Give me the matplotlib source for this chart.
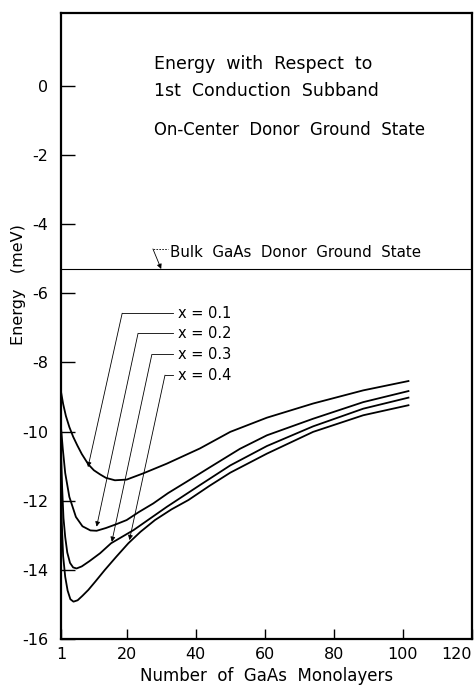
import numpy as np
import matplotlib.pyplot as plt

plt.rcParams['font.family'] = ['DejaVu Sans']
plt.rcParams['axes.unicode_minus'] = False

# energy (meV) vs number of GaAs monolayers
x01 = [1, 1.6, 2.4, 3.4, 4.5, 5.7, 7, 8.9, 10.5, 12.3, 14, 16.6, 20, 24.8, 31.6, 41.2, 50, 60.6, 74, 88.5, 101.6]
y01 = [-8.86, -9.2, -9.55, -9.87, -10.15, -10.4, -10.65, -10.95, -11.12, -11.24, -11.34, -11.41, -11.39, -11.21, -10.93, -10.49, -10.01, -9.6, -9.19, -8.81, -8.54]

x02 = [1, 1.5, 2.2, 3.4, 5.3, 7.2, 9.5, 11.3, 14, 17, 20, 23.5, 27.7, 32, 37.4, 44, 52.8, 60.6, 74, 88.5, 101.6]
y02 = [-9.9, -10.5, -11.2, -11.89, -12.47, -12.74, -12.86, -12.87, -12.79, -12.68, -12.56, -12.33, -12.08, -11.78, -11.45, -11.04, -10.5, -10.11, -9.63, -9.15, -8.83]

x03 = [1, 1.3, 1.7, 2.2, 2.8, 3.6, 4.5, 5.5, 7, 9.2, 12.3, 15.5, 22, 31.6, 41.2, 50, 60.6, 74, 88.5, 101.6]
y03 = [-10.6, -11.6, -12.5, -13.05, -13.5, -13.8, -13.93, -13.96, -13.9, -13.75, -13.52, -13.23, -12.85, -12.18, -11.55, -10.98, -10.42, -9.85, -9.34, -9.02]

x04 = [1, 1.2, 1.6, 2.2, 2.9, 3.7, 4.6, 5.8, 7.2, 8.9, 11, 13.7, 17, 20.5, 24, 28.2, 33, 37.9, 44, 50, 60.6, 74, 88.5, 101.6]
y04 = [-11.2, -12.6, -13.6, -14.2, -14.6, -14.85, -14.92, -14.88, -14.75, -14.58, -14.33, -14.0, -13.62, -13.23, -12.9, -12.56, -12.25, -11.98, -11.57, -11.19, -10.64, -10.01, -9.53, -9.24]

bulk = -5.3

labels = ['x = 0.1', 'x = 0.2', 'x = 0.3', 'x = 0.4']
label_y = [-6.58, -7.16, -7.77, -8.37]
corner_x = [18.7, 23.3, 27.3, 31.1]
tip_x = [8.8, 11.3, 15.7, 20.8]
tip_y = [-11.03, -12.75, -13.19, -13.14]

fig = plt.figure(figsize=(4.77, 6.88), dpi=100)
ax = fig.add_axes([0.128, 0.0712, 0.8615, 0.9098])

for xs, ys in [(x01, y01), (x02, y02), (x03, y03), (x04, y04)]:
    ax.plot(xs, ys, color='black', lw=1.3)

ax.axhline(bulk, color='black', lw=0.8)

for i in range(4):
    ax.plot([corner_x[i], 33.4], [label_y[i], label_y[i]], color='black', lw=0.6)
    ax.annotate('', xy=(tip_x[i], tip_y[i]), xytext=(corner_x[i], label_y[i]),
                arrowprops=dict(arrowstyle='-|>', color='black', lw=0.6,
                                mutation_scale=7, shrinkA=0, shrinkB=0))
    ax.text(34.9, label_y[i], labels[i], fontsize=10.5, va='center', ha='left')

# bulk GaAs label and its leader
ax.plot([27.6, 32.0], [-4.72, -4.72], color='black', lw=0.6, ls=(0, (2, 1.5)))
ax.annotate('', xy=(30.0, bulk), xytext=(27.6, -4.72),
            arrowprops=dict(arrowstyle='-|>', color='black', lw=0.6,
                            mutation_scale=7, shrinkA=0, shrinkB=0))
ax.text(32.6, -4.82, 'Bulk  GaAs  Donor  Ground  State', fontsize=10.8, va='center', ha='left')

ax.text(27.9, 0.64, 'Energy  with  Respect  to', fontsize=12.5, va='center', ha='left')
ax.text(27.9, -0.14, '1st  Conduction  Subband', fontsize=12.5, va='center', ha='left')
ax.text(27.9, -1.27, 'On-Center  Donor  Ground  State', fontsize=11.9, va='center', ha='left')

ax.set_xlim(1, 120)
ax.set_ylim(-16, 2.1)
ax.set_xticks([1, 20, 40, 60, 80, 100, 120])
ax.set_yticks([0, -2, -4, -6, -8, -10, -12, -14, -16])
ax.tick_params(axis='y', direction='in', length=10, width=1, pad=9, labelsize=11.5)
ax.tick_params(axis='x', direction='in', length=7, width=1, pad=6, labelsize=11.5)
ax.get_xticklabels()[-1].set_horizontalalignment('right')
for s in ax.spines.values():
    s.set_linewidth(1.6)

ax.set_xlabel('Number  of  GaAs  Monolayers', fontsize=12)
ax.set_ylabel('Energy   (meV)', fontsize=11.5)
ax.yaxis.set_label_coords(-0.085, 0.566)
ax.xaxis.set_label_coords(0.5, -0.045)

fig.savefig('out.png', dpi=100)
